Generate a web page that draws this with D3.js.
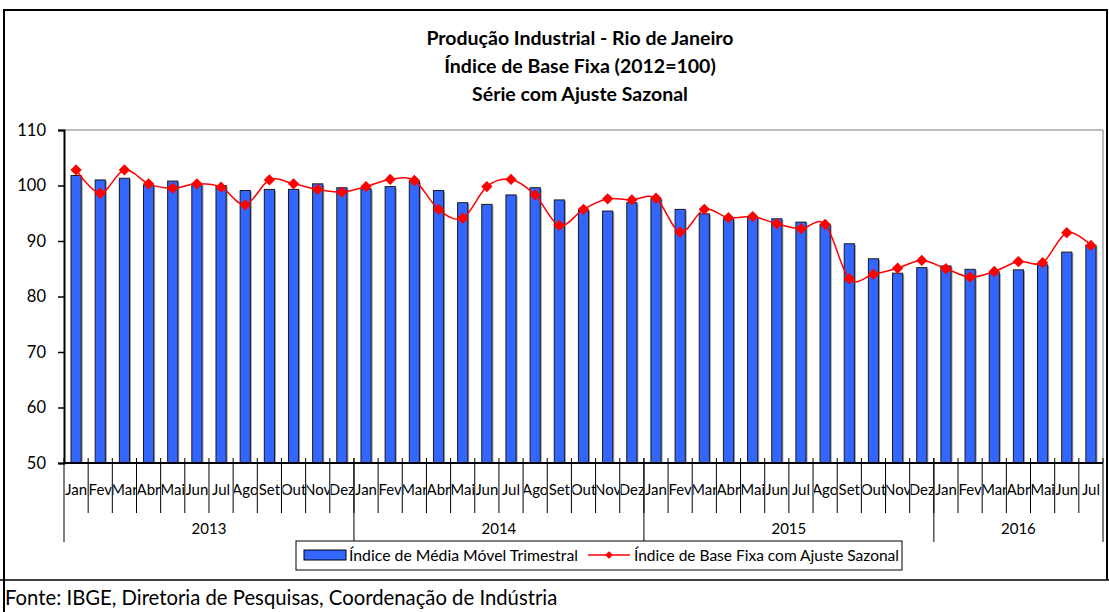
<!DOCTYPE html>
<html>
<head>
<meta charset="utf-8">
<script src="https://cdn.jsdelivr.net/npm/d3@7"></script>
<style>
  body { margin: 0; background: #fff; }
  svg { display: block; }
  text { font-family: Lato, "Open Sans", sans-serif; fill: #000; }
</style>
</head>
<body>
<svg id="chart" width="1109" height="612"></svg>
<script>
// categories
const monthNames = ["Jan", "Fev", "Mar", "Abr", "Mai", "Jun", "Jul", "Ago", "Set", "Out", "Nov", "Dez"];
const years = [2013, 2014, 2015, 2016];
const monthsInYear = [12, 12, 12, 7];

// Índice de Média Móvel Trimestral (bars)
const mediaMovel = [
    101.8, 101.0, 101.3, 100.1, 100.8, 100.2, 100.0, 99.1, 99.3, 99.3, 100.3, 99.6,
    99.4, 99.8, 100.7, 99.1, 96.9, 96.6, 98.3, 99.6, 97.4, 95.6, 95.4, 96.9,
    97.6, 95.7, 94.9, 94.0, 94.3, 94.0, 93.4, 93.0, 89.5, 86.8, 84.2, 85.2,
    85.5, 84.9, 84.3, 84.8, 85.7, 88.0, 89.2
];

// Índice de Base Fixa com Ajuste Sazonal (line)
const baseFixa = [
    102.8, 98.6, 102.8, 100.3, 99.5, 100.3, 99.7, 96.5, 101.0, 100.3, 99.3, 98.8,
    99.8, 101.1, 100.9, 95.7, 94.1, 99.8, 101.1, 98.3, 92.8, 95.7, 97.6, 97.4,
    97.7, 91.6, 95.7, 94.2, 94.4, 93.1, 92.2, 93.0, 83.2, 84.0, 85.1, 86.5,
    85.0, 83.5, 84.5, 86.3, 86.1, 91.5, 89.2
];

const yTicks = [50, 60, 70, 80, 90, 100, 110];

const titleLines = ["Produção Industrial - Rio de Janeiro", "Índice de Base Fixa (2012=100)", "Série com Ajuste Sazonal"];
const legendLabels = ["Índice de Média Móvel Trimestral", "Índice de Base Fixa com Ajuste Sazonal"];
const fonte = "Fonte: IBGE, Diretoria de Pesquisas, Coordenação de Indústria";

// build category list
let categories = [];
years.forEach((yr, k) => {
    for (let m = 0; m < monthsInYear[k]; m++) {
        categories.push({ month: monthNames[m], year: yr, index: categories.length });
    }
});

const svg = d3.select("#chart");
const W = 1109, H = 612;
const plotLeft = 64, plotRight = 1103, plotTop = 130, plotBottom = 463;

// outer frame
svg.append("line").attr("x1", 4).attr("x2", 1107).attr("y1", 10).attr("y2", 10)
    .attr("stroke", "#000").attr("stroke-width", 2);
svg.append("line").attr("x1", 4).attr("x2", 4).attr("y1", 9).attr("y2", H)
    .attr("stroke", "#000").attr("stroke-width", 2);
svg.append("line").attr("x1", 1107).attr("x2", 1107).attr("y1", 9).attr("y2", 580)
    .attr("stroke", "#000").attr("stroke-width", 2);
svg.append("line").attr("x1", 0).attr("x2", W).attr("y1", 580).attr("y2", 580)
    .attr("stroke", "#000").attr("stroke-width", 1.5);

// title
svg.append("g").selectAll("text")
    .data(titleLines)
    .join("text")
    .attr("x", 580)
    .attr("y", (d, i) => 45 + i * 28)
    .attr("text-anchor", "middle")
    .style("font-size", "19.5px")
    .style("font-weight", "bold")
    .text(d => d);

// scales
const x = d3.scaleBand()
    .domain(categories.map(d => d.index))
    .range([plotLeft, plotRight]);
const y = d3.scaleLinear()
    .domain([50, 110])
    .range([plotBottom, plotTop]);

const step = x.bandwidth();
const barW = step * 0.42;

// plot area border (gray top and right)
svg.append("line").attr("x1", plotLeft).attr("x2", plotRight).attr("y1", plotTop).attr("y2", plotTop)
    .attr("stroke", "#a6a6a6").attr("stroke-width", 1.5);
svg.append("line").attr("x1", plotRight).attr("x2", plotRight).attr("y1", plotTop).attr("y2", plotBottom)
    .attr("stroke", "#a6a6a6").attr("stroke-width", 1.5);

// bars (shadow then bar)
const barG = svg.append("g");
barG.selectAll("rect.shadow")
    .data(mediaMovel)
    .join("rect")
    .attr("class", "shadow")
    .attr("x", (d, i) => x(i) + (step - barW) / 2 + 1.5)
    .attr("y", d => y(d) + 1)
    .attr("width", barW)
    .attr("height", d => plotBottom - y(d))
    .attr("fill", "#a0a0a0");
barG.selectAll("rect.bar")
    .data(mediaMovel)
    .join("rect")
    .attr("class", "bar")
    .attr("x", (d, i) => x(i) + (step - barW) / 2)
    .attr("y", d => y(d))
    .attr("width", barW)
    .attr("height", d => plotBottom - y(d))
    .attr("fill", "#3366ff")
    .attr("stroke", "#1a1a1a")
    .attr("stroke-width", 1);

// y axis
const yAxis = d3.axisLeft(y).tickValues(yTicks).tickSize(6).tickPadding(12);
const yG = svg.append("g")
    .attr("transform", `translate(${plotLeft},0)`)
    .call(yAxis);
yG.select(".domain").attr("stroke", "#000").attr("stroke-width", 2);
yG.selectAll(".tick line").attr("stroke", "#000").attr("stroke-width", 1.5);
yG.selectAll(".tick text").style("font-size", "16.5px").attr("fill", "#000");

// x axis baseline
svg.append("line").attr("x1", plotLeft).attr("x2", plotRight).attr("y1", plotBottom).attr("y2", plotBottom)
    .attr("stroke", "#000").attr("stroke-width", 2);

// month boundary ticks
const xAxisG = svg.append("g");
xAxisG.selectAll("line.mtick")
    .data(d3.range(1, categories.length))
    .join("line")
    .attr("class", "mtick")
    .attr("x1", i => x(i)).attr("x2", i => x(i))
    .attr("y1", plotBottom - 5).attr("y2", 513)
    .attr("stroke", "#000").attr("stroke-width", 1);

// year boundaries
let yearStarts = [];
let acc = 0;
monthsInYear.forEach(n => { yearStarts.push(acc); acc += n; });
const yearBounds = yearStarts.map(i => x(i)).concat([plotRight]);
xAxisG.selectAll("line.ytick")
    .data(yearBounds)
    .join("line")
    .attr("class", "ytick")
    .attr("x1", d => d).attr("x2", d => d)
    .attr("y1", plotBottom - 5).attr("y2", 542)
    .attr("stroke", "#000").attr("stroke-width", 1);

// month labels clipped to their band
const defs = svg.append("defs");
categories.forEach(c => {
    defs.append("clipPath").attr("id", "clip" + c.index)
        .append("rect")
        .attr("x", x(c.index) + 1).attr("y", plotBottom + 2)
        .attr("width", step - 1.5).attr("height", 40);
});
xAxisG.selectAll("text.month")
    .data(categories)
    .join("text")
    .attr("class", "month")
    .attr("clip-path", d => `url(#clip${d.index})`)
    .attr("x", d => x(d.index) + step / 2)
    .attr("y", 495)
    .attr("text-anchor", "middle")
    .style("font-size", "15px")
    .text(d => d.month);

// year labels
xAxisG.selectAll("text.year")
    .data(years)
    .join("text")
    .attr("class", "year")
    .attr("x", (d, k) => (yearBounds[k] + yearBounds[k + 1]) / 2)
    .attr("y", 534)
    .attr("text-anchor", "middle")
    .style("font-size", "15px")
    .text(d => d);

// line series
const line = d3.line()
    .x((d, i) => x(i) + step / 2)
    .y(d => y(d))
    .curve(d3.curveCardinal);
svg.append("path")
    .datum(baseFixa)
    .attr("d", line)
    .attr("fill", "none")
    .attr("stroke", "#ff0000")
    .attr("stroke-width", 1.5);

const diamond = d3.symbol().type(d3.symbolSquare).size(64);
svg.append("g").selectAll("path")
    .data(baseFixa)
    .join("path")
    .attr("d", diamond)
    .attr("transform", (d, i) => `translate(${x(i) + step / 2},${y(d)}) rotate(45)`)
    .attr("fill", "#ff0000");

// legend
const lg = svg.append("g");
lg.append("rect")
    .attr("x", 296).attr("y", 541).attr("width", 606).attr("height", 29)
    .attr("fill", "#fff").attr("stroke", "#000").attr("stroke-width", 1);
lg.append("rect")
    .attr("x", 304).attr("y", 550).attr("width", 42).attr("height", 10)
    .attr("fill", "#3366ff").attr("stroke", "#000").attr("stroke-width", 1);
lg.append("text")
    .attr("x", 349).attr("y", 561)
    .style("font-size", "15.8px")
    .text(legendLabels[0]);
lg.append("line")
    .attr("x1", 588).attr("x2", 630).attr("y1", 555).attr("y2", 555)
    .attr("stroke", "#ff0000").attr("stroke-width", 1.5);
lg.append("path")
    .attr("d", d3.symbol().type(d3.symbolSquare).size(30))
    .attr("transform", "translate(609,555) rotate(45)")
    .attr("fill", "#ff0000");
lg.append("text")
    .attr("x", 634).attr("y", 561)
    .style("font-size", "15.5px")
    .text(legendLabels[1]);

// source
svg.append("text")
    .attr("x", 5).attr("y", 605)
    .style("font-size", "20.3px")
    .text(fonte);
</script>
</body>
</html>
